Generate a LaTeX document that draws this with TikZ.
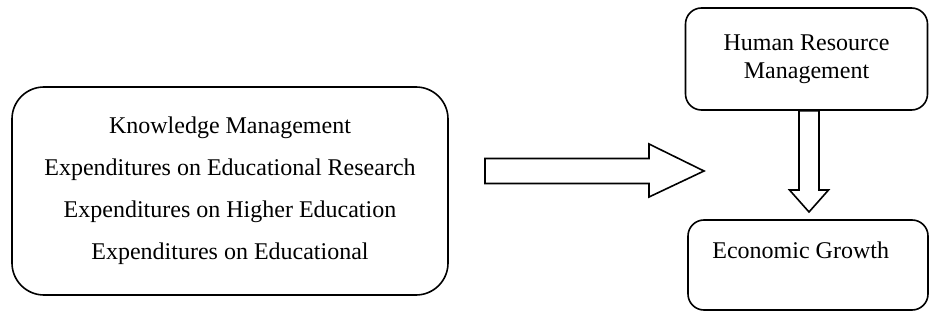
\documentclass[tikz,border=0pt]{standalone}
\usepackage{fontspec}
\setmainfont{Liberation Serif}
\usetikzlibrary{positioning,calc}

\begin{document}
\begin{tikzpicture}[x=0.5pt,y=-0.5pt,
    roundbox/.style={rectangle,draw,line width=0.8pt,inner sep=0pt},
    blockarrow/.style={draw,line width=0.8pt,fill=white,line join=miter}]
    \useasboundingbox (0,0) rectangle (930,320);

    \node[roundbox,rounded corners=16pt,minimum width=218pt,minimum height=104pt,align=center,font=\fontsize{12}{21}\selectfont] (inputs) at (230,191)
        {Knowledge Management\\Expenditures on Educational Research\\Expenditures on Higher Education\\Expenditures on Educational};

    \node[roundbox,rounded corners=8pt,minimum width=121pt,minimum height=51pt,align=center,font=\fontsize{12}{14}\selectfont] (hrm) at (806.5,59) {Human Resource\\Management};

    \node[roundbox,rounded corners=8pt,minimum width=120pt,minimum height=45pt] (growth) at (808,265) {};
    \node[anchor=west,inner sep=0pt,font=\fontsize{12}{14}\selectfont] (growthtext) at (712,250) {Economic Growth};

    % block arrows
    \coordinate (rstart) at (485,171);
    \coordinate (rtip) at (704,171);
    \draw[blockarrow] ($(rstart)+(0,-12.5)$) -- ($(rtip)+(-55,-12.5)$) -- ($(rtip)+(-55,-27)$) -- (rtip)
        -- ($(rtip)+(-55,26)$) -- ($(rtip)+(-55,12.5)$) -- ($(rstart)+(0,12.5)$) -- cycle;

    \coordinate (dstart) at ($(hrm.south)+(2.5,0)$);
    \coordinate (dtip) at (809,212);
    \draw[blockarrow] ($(dstart)+(-10,0)$) -- ($(dtip)+(-10,-22)$) -- ($(dtip)+(-19.5,-22)$) -- (dtip)
        -- ($(dtip)+(19.5,-22)$) -- ($(dtip)+(10,-22)$) -- ($(dstart)+(10,0)$) -- cycle;
\end{tikzpicture}
\end{document}
